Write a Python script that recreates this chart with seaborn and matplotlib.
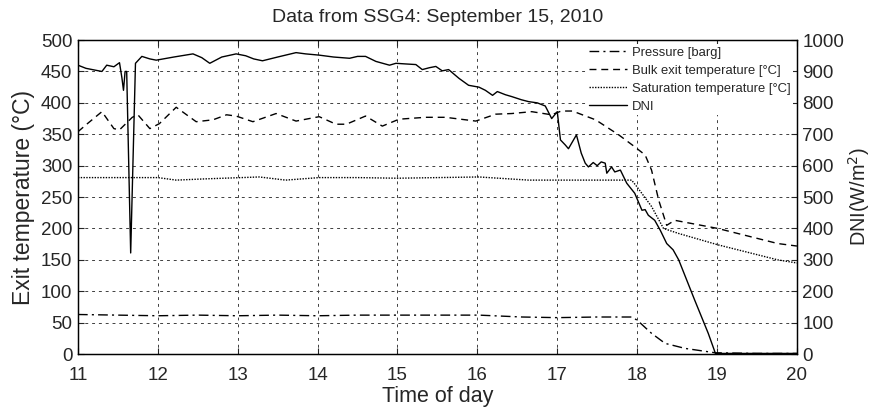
import matplotlib
matplotlib.use("Agg")
import matplotlib.pyplot as plt
import seaborn as sns
import pandas as pd
from matplotlib.lines import Line2D

# Time of day (hours) and measured series
dni_time = [11.00, 11.10, 11.20, 11.30, 11.36, 11.45, 11.52, 11.55, 11.57, 11.59, 11.61, 11.66,
            11.72, 11.80, 11.90, 11.98, 12.20, 12.44, 12.55, 12.65, 12.80, 12.98, 13.10, 13.20,
            13.31, 13.50, 13.73, 13.85, 14.02, 14.20, 14.40, 14.50, 14.60, 14.73, 14.90, 14.98,
            15.10, 15.23, 15.31, 15.40, 15.48, 15.56, 15.64, 15.77, 15.89, 16.02, 16.10, 16.19,
            16.25, 16.35, 16.43, 16.55, 16.64, 16.75, 16.85, 16.93, 17.00, 17.04, 17.10, 17.14,
            17.24, 17.30, 17.35, 17.39, 17.45, 17.50, 17.55, 17.60, 17.62, 17.68, 17.72, 17.79,
            17.87, 17.97, 18.06, 18.10, 18.14, 18.22, 18.29, 18.37, 18.45, 18.52, 18.72, 18.89,
            18.98, 19.50, 20.00]
dni_values = [920, 910, 905, 900, 920, 915, 928, 880, 840, 900, 900, 322,
              926, 948, 940, 936, 946, 956, 944, 926, 946, 956, 950, 940,
              934, 946, 960, 956, 952, 946, 942, 948, 948, 932, 920, 926,
              924, 922, 906, 912, 916, 902, 906, 878, 856, 850, 840, 824,
              836, 826, 820, 810, 804, 800, 790, 750, 772, 682, 666, 654,
              698, 640, 608, 596, 610, 600, 612, 608, 576, 596, 580, 586,
              544, 512, 458, 460, 442, 426, 394, 352, 332, 300, 172, 66,
              2, 2, 2]

bulk_time = [11.00, 11.10, 11.30, 11.45, 11.52, 11.68, 11.75, 11.90, 12.02, 12.23, 12.48, 12.69,
             12.86, 12.98, 13.19, 13.48, 13.73, 14.02, 14.23, 14.36, 14.60, 14.81, 15.02, 15.35,
             15.60, 15.98, 16.23, 16.43, 16.68, 16.93, 17.05, 17.19, 17.48, 17.77, 17.97, 18.10,
             18.18, 18.27, 18.37, 18.47, 19.01, 19.76, 20.00]
bulk_values = [354, 365, 386, 359, 357, 377, 381, 359, 367, 393, 370, 373,
               381, 379, 370, 383, 371, 378, 366, 366, 379, 363, 374, 377,
               377, 371, 382, 383, 386, 381, 387, 387, 373, 349, 330, 317,
               293, 245, 205, 213, 200, 176, 172]

sat_time = [11.00, 11.60, 12.00, 12.23, 12.60, 13.27, 13.60, 14.02, 14.50, 15.00, 15.50, 16.02,
            16.64, 17.30, 17.93, 18.00, 18.18, 18.33, 18.52, 19.01, 19.76, 20.00]
sat_values = [281, 281, 281, 277, 279, 282, 277, 281, 281, 280, 281, 282,
              277, 277, 277, 266, 235, 200, 192, 174, 150, 145]

pres_time = [11.00, 11.50, 12.00, 12.50, 13.00, 13.50, 14.00, 14.50, 15.00, 15.50, 16.02, 16.56,
             17.00, 17.50, 17.93, 18.00, 18.18, 18.35, 18.60, 18.98, 19.50, 20.00]
pres_values = [63, 62, 61, 62, 61, 62, 61, 62, 62, 62, 62, 59,
               58, 59, 59, 54, 33, 17, 9, 2, 1, 1]

x_ticks = list(range(11, 21))
left_ticks = list(range(0, 501, 50))
right_ticks = list(range(0, 1001, 100))

sns.set_style("ticks")
plt.rcParams["font.family"] = ["Liberation Sans", "DejaVu Sans"]
plt.rcParams["xtick.direction"] = "in"
plt.rcParams["ytick.direction"] = "in"

fig = plt.figure(figsize=(8.72, 4.2), dpi=100)
ax = fig.add_axes([0.0894, 0.157, 0.8245, 0.7476])
ax2 = ax.twinx()

df_dni = pd.DataFrame({"t": dni_time, "v": dni_values})
df_bulk = pd.DataFrame({"t": bulk_time, "v": bulk_values})
df_sat = pd.DataFrame({"t": sat_time, "v": sat_values})
df_pres = pd.DataFrame({"t": pres_time, "v": pres_values})

lw = 1.0
pres_ls = (0, (7, 3, 1.5, 3))
bulk_ls = (0, (5, 3.5))
sat_ls = (0, (1, 1))

sns.lineplot(data=df_pres, x="t", y="v", ax=ax, color="black", lw=lw, linestyle=pres_ls)
sns.lineplot(data=df_bulk, x="t", y="v", ax=ax, color="black", lw=lw, linestyle=bulk_ls)
sns.lineplot(data=df_sat, x="t", y="v", ax=ax, color="black", lw=lw, linestyle=sat_ls)
sns.lineplot(data=df_dni, x="t", y="v", ax=ax2, color="black", lw=lw, linestyle="-")

ax.set_xlim(11, 20)
ax.set_ylim(0, 500)
ax2.set_ylim(0, 1000)
ax.set_xticks(x_ticks)
ax.set_yticks(left_ticks)
ax2.set_yticks(right_ticks)

ax.grid(True, color="0.25", linestyle=(0, (3, 4)), linewidth=0.7)
ax.set_axisbelow(True)

tick_fs = 13.5
ax.tick_params(axis="x", labelsize=tick_fs, length=4, top=True, pad=9)
ax.tick_params(axis="y", labelsize=tick_fs, length=4, pad=4)
ax2.tick_params(axis="y", labelsize=tick_fs, length=4, pad=4)
ax.set_xlabel("Time of day", fontsize=15.5, labelpad=2)
ax.set_ylabel("Exit temperature (°C)", fontsize=16.5, labelpad=4)
ax2.set_ylabel("DNI(W/m$^2$)", fontsize=14.3, labelpad=1)
ax.set_title("Data from SSG4: September 15, 2010", fontsize=14, pad=13)

for a in (ax, ax2):
    for s in a.spines.values():
        s.set_visible(True)
        s.set_linewidth(0.9)
        s.set_color("black")

handles = [
    Line2D([], [], color="black", lw=lw, linestyle=pres_ls),
    Line2D([], [], color="black", lw=lw, linestyle=bulk_ls),
    Line2D([], [], color="black", lw=lw, linestyle=sat_ls),
    Line2D([], [], color="black", lw=lw, linestyle="-"),
]
labels = ["Pressure [barg]", "Bulk exit temperature [°C]",
          "Saturation temperature [°C]", "DNI"]
leg = ax2.legend(handles, labels, loc="upper right", fontsize=9.4, frameon=True,
                 framealpha=1, edgecolor="none", facecolor="white",
                 handlelength=2.9, borderaxespad=0.3, labelspacing=0.45,
                 borderpad=0.2, handletextpad=0.4)

fig.savefig("out.png", dpi=100)
